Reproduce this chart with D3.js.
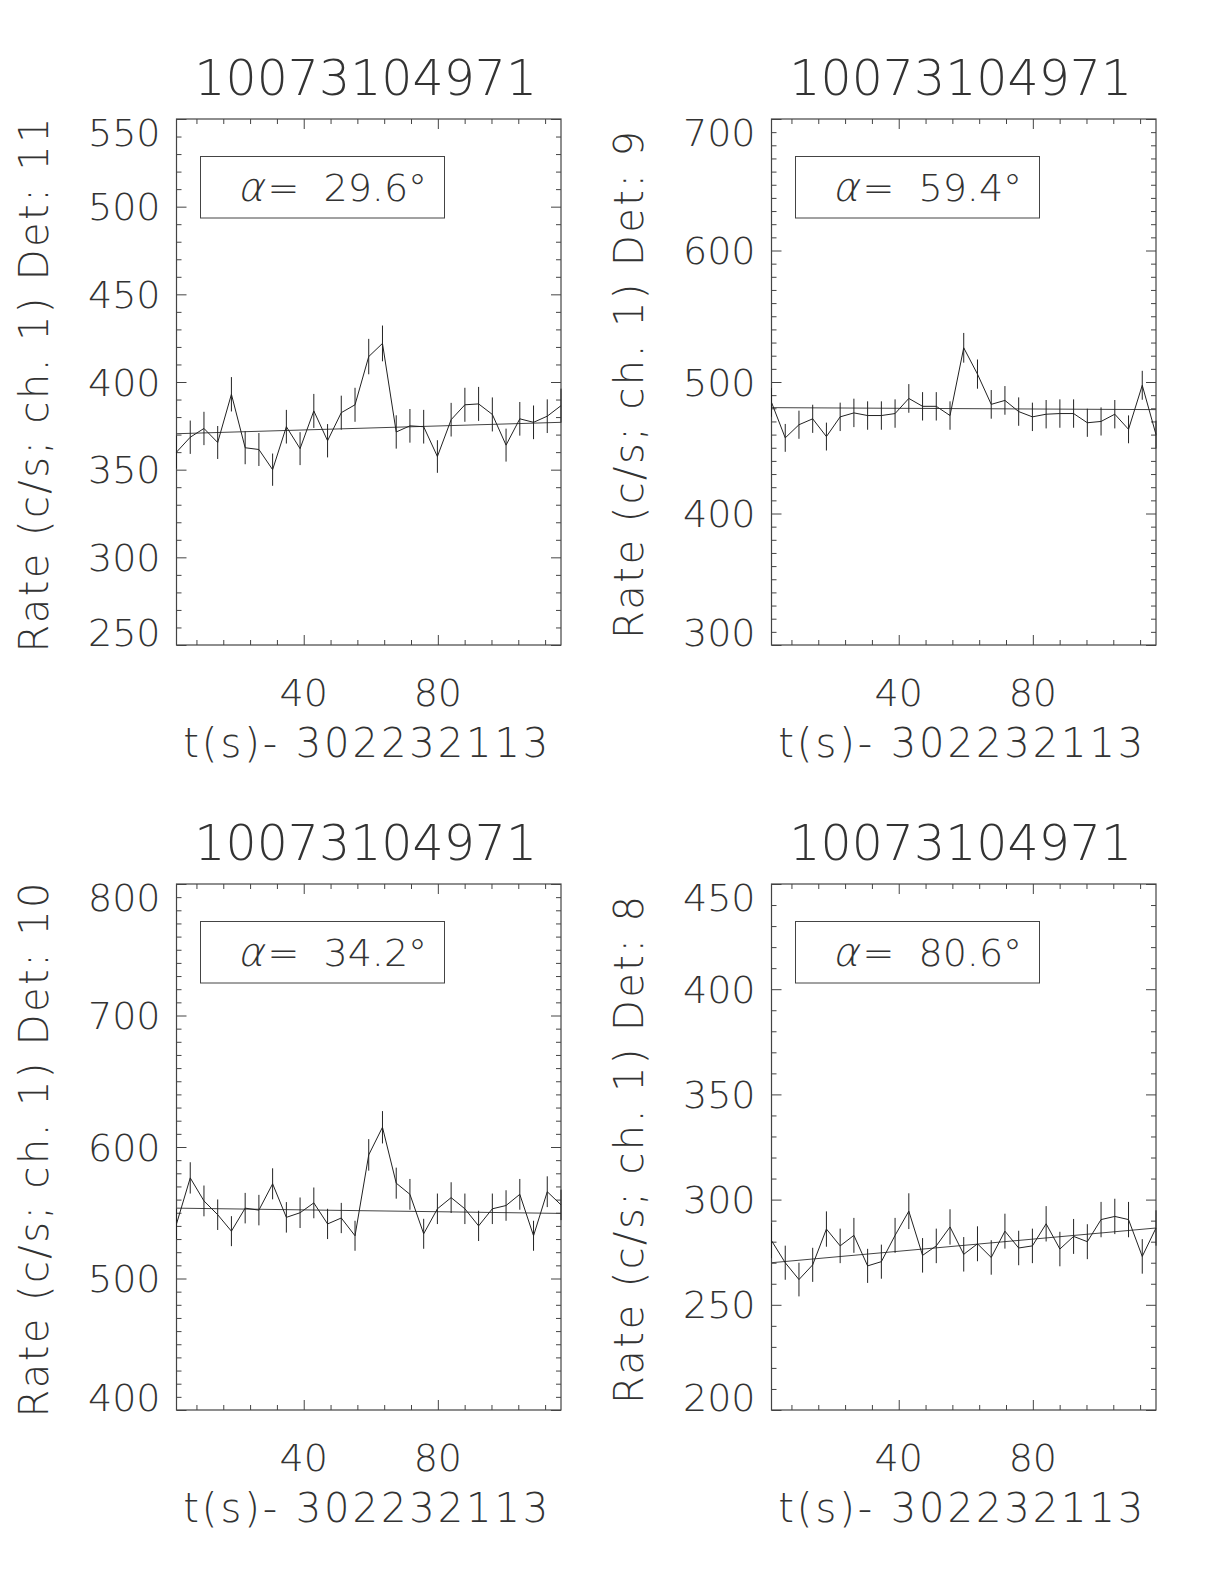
<!DOCTYPE html>
<html>
<head>
<meta charset="utf-8">
<script src="https://cdn.jsdelivr.net/npm/d3@7"></script>
<style>
  html, body { margin: 0; padding: 0; background: #fff; }
  svg text { font-family: 'DejaVu Sans', 'Liberation Sans', sans-serif; font-weight: 200; fill: #333; }
</style>
</head>
<body>
<div id="chart"></div>
<script>
'use strict';

// ---- data ----
let obsId = '10073104971';
let tRef = '302232113';
let detectors = [11, 9, 10, 8];
let alphas = ['29.6', '59.4', '34.2', '80.6'];

// bin centres, seconds after tRef
let times = [2.05, 6.15, 10.24, 14.34, 18.43, 22.53, 26.63, 30.72, 34.82, 38.91,
    43.01, 47.11, 51.20, 55.30, 59.39, 63.49, 67.59, 71.68, 75.78, 79.87,
    83.97, 88.07, 92.16, 96.26, 100.35, 104.45, 108.55, 112.64, 116.74];

let rateDet11 = [360, 368.5, 373.5, 365.5, 393, 362.5, 361.5, 350, 374.5, 362,
    383.5, 366.5, 382.5, 387, 414.5, 422, 371.5, 375, 374.5, 357.5,
    378.5, 387, 387.5, 381.5, 364, 379, 377, 380.5, 386.5];
let errDet11 = [9.4, 9.5, 9.5, 9.4, 9.8, 9.4, 9.4, 9.2, 9.6, 9.4,
    9.7, 9.5, 9.7, 9.7, 10.1, 10.2, 9.5, 9.6, 9.6, 9.3,
    9.6, 9.7, 9.7, 9.7, 9.4, 9.6, 9.6, 9.6, 9.7];
let fitDet11 = [370.5, 377];

let rateDet9 = [484.5, 457.5, 467.5, 472, 458.5, 473.5, 476.5, 474.5, 474.5, 476,
    487.5, 481.5, 481.5, 474.5, 526, 506, 483, 486, 477.5, 473.5,
    475.5, 476, 476, 469, 470, 475.5, 464, 497.5, 460];
let errDet9 = [10.9, 10.6, 10.7, 10.7, 10.6, 10.8, 10.8, 10.8, 10.8, 10.8,
    10.9, 10.8, 10.8, 10.8, 11.3, 11.1, 10.9, 10.9, 10.8, 10.8,
    10.8, 10.8, 10.8, 10.7, 10.7, 10.8, 10.6, 11.0, 10.6];
let fitDet9 = [480.5, 479];

let rateDet10 = [541.5, 576.5, 559, 548.5, 536, 553.5, 552, 572, 546.5, 550,
    557.5, 541.5, 546, 532.5, 594, 615, 572.5, 564, 534, 553,
    561.5, 553, 540, 553, 555.5, 564, 532.5, 566, 556];
let errDet10 = [11.5, 11.9, 11.7, 11.6, 11.4, 11.6, 11.6, 11.8, 11.6, 11.6,
    11.7, 11.5, 11.5, 11.4, 12.0, 12.3, 11.8, 11.7, 11.4, 11.6,
    11.7, 11.6, 11.5, 11.6, 11.6, 11.7, 11.4, 11.7, 11.6];
let fitDet10 = [553.5, 549.5];

let rateDet8 = [280.5, 270, 262, 269, 286, 278, 283, 268.5, 270.5, 283,
    294.5, 273.5, 278, 287, 274, 279, 272.5, 285, 277, 278,
    288.5, 276.5, 282.5, 280, 290.5, 292, 290.5, 273, 286.5];
let errDet8 = [8.3, 8.1, 8.0, 8.1, 8.4, 8.2, 8.3, 8.1, 8.1, 8.3,
    8.5, 8.2, 8.2, 8.4, 8.2, 8.3, 8.2, 8.3, 8.2, 8.2,
    8.4, 8.2, 8.3, 8.3, 8.4, 8.4, 8.4, 8.2, 8.4];
let fitDet8 = [270, 286.5];

// axis ranges and tick labels
let yRange11 = [250, 550], yTicks11 = [250, 300, 350, 400, 450, 500, 550];
let yRange9 = [300, 700], yTicks9 = [300, 400, 500, 600, 700];
let yRange10 = [400, 800], yTicks10 = [400, 500, 600, 700, 800];
let yRange8 = [200, 450], yTicks8 = [200, 250, 300, 350, 400, 450];
let xTicks = [40, 80];
let xMinorStep = 8, yMinorStep = 10;

let panels = [
    {det: 11, rate: rateDet11, err: errDet11, fit: fitDet11, range: yRange11, ticks: yTicks11},
    {det: 9, rate: rateDet9, err: errDet9, fit: fitDet9, range: yRange9, ticks: yTicks9},
    {det: 10, rate: rateDet10, err: errDet10, fit: fitDet10, range: yRange10, ticks: yTicks10},
    {det: 8, rate: rateDet8, err: errDet8, fit: fitDet8, range: yRange8, ticks: yTicks8}
];

// ---- layout ----
let width = 1224, height = 1584;
let plotW = 384.5, plotH = 526;
let origins = [[176.5, 119], [771.5, 119], [176.5, 884], [771.5, 884]];
let ink = '#222';

let svg = d3.select('#chart').append('svg')
    .attr('width', width)
    .attr('height', height);

svg.append('rect').attr('width', width).attr('height', height).attr('fill', '#fff');

panels.forEach(function(p, i) {
    let g = svg.append('g')
        .attr('transform', 'translate(' + origins[i][0] + ',' + origins[i][1] + ')');

    let x = d3.scaleLinear().domain([times[0], times[times.length - 1]]).range([0, plotW]);
    let y = d3.scaleLinear().domain(p.range).range([plotH, 0]);

    let xMinor = d3.range(xMinorStep, times[times.length - 1], xMinorStep).filter(function(v) {
        return xTicks.indexOf(v) < 0;
    });
    let yMinor = d3.range(p.range[0], p.range[1] + 0.1, yMinorStep).filter(function(v) {
        return p.ticks.indexOf(v) < 0;
    });

    // ticks on all four sides, pointing inward
    let axes = [
        [d3.axisBottom(x), 'translate(0,' + plotH + ')', xMinor, xTicks],
        [d3.axisTop(x), 'translate(0,0)', xMinor, xTicks],
        [d3.axisLeft(y), 'translate(0,0)', yMinor, p.ticks],
        [d3.axisRight(y), 'translate(' + plotW + ',0)', yMinor, p.ticks]
    ];
    axes.forEach(function(a) {
        [[a[2], 5], [a[3], 10]].forEach(function(set) {
            let ax = g.append('g')
                .attr('transform', a[1])
                .call(a[0].tickValues(set[0]).tickSize(-set[1]).tickFormat(''));
            ax.select('.domain').remove();
            ax.selectAll('line').attr('stroke', '#444').attr('stroke-width', 1);
        });
    });

    // frame
    g.append('rect')
        .attr('width', plotW)
        .attr('height', plotH)
        .attr('fill', 'none')
        .attr('stroke', '#444')
        .attr('stroke-width', 1.2);

    // y tick labels, end labels nudged inside like the original
    g.selectAll('.ylab')
        .data(p.ticks)
        .enter().append('text')
        .attr('class', 'ylab')
        .attr('x', -16)
        .attr('y', function(d) {
            let yy = y(d);
            if (d === p.range[1]) yy += 13;
            if (d === p.range[0]) yy -= 13;
            return yy;
        })
        .attr('dy', '0.36em')
        .attr('text-anchor', 'end')
        .style('font-size', '38px')
        .text(function(d) { return d; });

    // x tick labels
    g.selectAll('.xlab')
        .data(xTicks)
        .enter().append('text')
        .attr('class', 'xlab')
        .attr('x', function(d) { return x(d); })
        .attr('y', plotH + 47)
        .attr('dy', '0.36em')
        .attr('text-anchor', 'middle')
        .style('font-size', '38px')
        .text(function(d) { return d; });

    // x title
    g.append('text')
        .attr('x', plotW / 2 - 3)
        .attr('y', plotH + 98)
        .attr('dy', '0.36em')
        .attr('text-anchor', 'middle')
        .attr('textLength', 365)
        .attr('lengthAdjust', 'spacing')
        .style('font-size', '40px')
        .text('t(s)- ' + tRef);

    // y title
    let yTitle = 'Rate (c/s; ch. 1) Det: ' + p.det;
    g.append('text')
        .attr('transform', 'translate(-143,' + (plotH / 2 + 3) + ') rotate(-90)')
        .attr('dy', '0.36em')
        .attr('text-anchor', 'middle')
        .attr('textLength', String(p.det).length > 1 ? 535 : 508)
        .attr('lengthAdjust', 'spacing')
        .style('font-size', '40px')
        .text(yTitle);

    // plot title
    g.append('text')
        .attr('x', plotW / 2 - 3)
        .attr('y', -42)
        .attr('dy', '0.36em')
        .attr('text-anchor', 'middle')
        .style('font-size', '49px')
        .text(obsId);

    // alpha box
    g.append('rect')
        .attr('x', 24)
        .attr('y', 37.5)
        .attr('width', 244)
        .attr('height', 61.5)
        .attr('fill', 'none')
        .attr('stroke', '#444')
        .attr('stroke-width', 1);
    // slanted alpha drawn on its own so it keeps the light weight
    g.append('text')
        .attr('transform', 'translate(64,68) skewX(-14)')
        .attr('dy', '0.36em')
        .style('font-size', '40px')
        .text('\u03b1');
    g.append('text')
        .attr('x', 91)
        .attr('y', 68)
        .attr('dy', '0.36em')
        .style('font-size', '38px')
        .style('white-space', 'pre')
        .text('=  ' + alphas[i] + '\u00b0');

    // fitted background
    g.append('line')
        .attr('x1', x(times[0]))
        .attr('x2', x(times[times.length - 1]))
        .attr('y1', y(p.fit[0]))
        .attr('y2', y(p.fit[1]))
        .attr('stroke', '#444')
        .attr('stroke-width', 1);

    // error bars
    g.selectAll('.err')
        .data(times)
        .enter().append('line')
        .attr('class', 'err')
        .attr('x1', function(d) { return x(d); })
        .attr('x2', function(d) { return x(d); })
        .attr('y1', function(d, k) { return y(p.rate[k] - p.err[k]); })
        .attr('y2', function(d, k) { return y(p.rate[k] + p.err[k]); })
        .attr('stroke', ink)
        .attr('stroke-width', 1);

    // light curve
    let line = d3.line()
        .x(function(d) { return x(d[0]); })
        .y(function(d) { return y(d[1]); });
    g.append('path')
        .datum(times.map(function(t, k) { return [t, p.rate[k]]; }))
        .attr('d', line)
        .attr('fill', 'none')
        .attr('stroke', ink)
        .attr('stroke-width', 1);
});
</script>
</body>
</html>
